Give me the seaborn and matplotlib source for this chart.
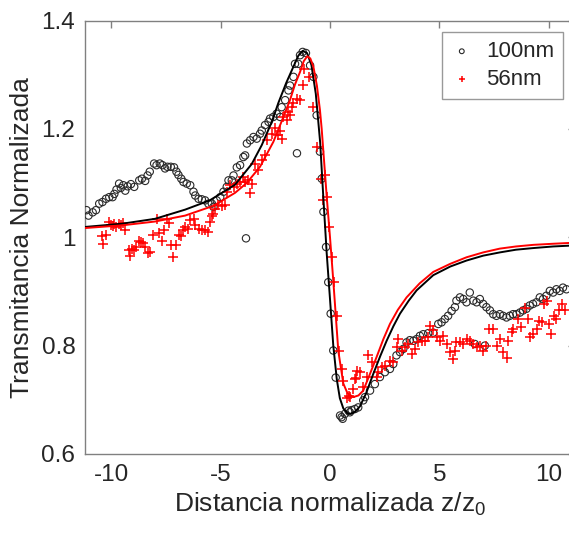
import numpy as np
import pandas as pd
import matplotlib
matplotlib.use("Agg")
import matplotlib.pyplot as plt
import seaborn as sns

# ---------------- data ----------------
x_100 = [-11.13, -11.04, -10.85, -10.70, -10.55, -10.40, -10.24, -10.09, -9.94, -9.86, -9.76, -9.64, -9.56,
         -9.45, -9.36, -9.25, -9.10, -8.95, -8.72, -8.60, -8.45, -8.34, -8.24, -8.04, -7.93, -7.78, -7.66,
         -7.54, -7.43, -7.28, -7.13, -7.02, -6.93, -6.80, -6.70, -6.55, -6.39, -6.24, -6.16, -6.01, -5.86,
         -5.71, -5.56, -5.40, -5.33, -5.18, -5.02, -4.87, -4.72, -4.64, -4.49, -4.41, -4.26, -4.11, -3.96,
         -3.88, -3.84, -3.80, -3.65, -3.50, -3.35, -3.20, -3.12, -2.97, -2.81, -2.74, -2.59, -2.44, -2.28,
         -2.21, -2.05, -1.90, -1.83, -1.67, -1.60, -1.51, -1.45, -1.37, -1.25, -1.10, -0.91, -0.76, -0.61,
         -0.46, -0.38, -0.30, -0.18, -0.08, 0.03, 0.15, 0.26, 0.46, 0.53, 0.58, 0.68, 0.84, 0.91, 0.99,
         1.14, 1.29, 1.52, 1.60, 1.83, 2.05, 2.28, 2.51, 2.74, 2.89, 3.04, 3.20, 3.35, 3.50, 3.65, 3.81,
         3.96, 4.11, 4.26, 4.49, 4.72, 4.95, 5.10, 5.25, 5.40, 5.56, 5.71, 5.78, 5.94, 6.09, 6.24, 6.39,
         6.55, 6.62, 6.70, 6.85, 7.00, 7.08, 7.15, 7.31, 7.46, 7.61, 7.76, 7.91, 8.07, 8.22, 8.37, 8.52,
         8.68, 8.83, 8.98, 9.13, 9.28, 9.44, 9.59, 9.74, 9.89, 10.05, 10.20, 10.35, 10.50, 10.65, 10.81]
y_100 = [1.050, 1.040, 1.046, 1.050, 1.062, 1.065, 1.071, 1.074, 1.074, 1.080, 1.088, 1.099, 1.091,
         1.096, 1.086, 1.094, 1.098, 1.093, 1.105, 1.108, 1.104, 1.114, 1.121, 1.136, 1.133, 1.136, 1.133,
         1.127, 1.130, 1.130, 1.129, 1.121, 1.115, 1.108, 1.102, 1.099, 1.096, 1.084, 1.077, 1.071, 1.070,
         1.068, 1.062, 1.062, 1.056, 1.068, 1.074, 1.084, 1.093, 1.105, 1.105, 1.114, 1.129, 1.133, 1.148,
         1.151, 0.998, 1.173, 1.179, 1.185, 1.182, 1.191, 1.197, 1.207, 1.213, 1.219, 1.222, 1.228, 1.222,
         1.240, 1.253, 1.271, 1.280, 1.296, 1.320, 1.155, 1.320, 1.336, 1.342, 1.340, 1.317, 1.296, 1.225,
         1.158, 1.108, 1.047, 0.982, 0.917, 0.859, 0.791, 0.741, 0.671, 0.668, 0.665, 0.674, 0.680, 0.677,
         0.681, 0.683, 0.686, 0.699, 0.705, 0.717, 0.729, 0.742, 0.751, 0.757, 0.766, 0.782, 0.788, 0.794,
         0.806, 0.810, 0.809, 0.812, 0.818, 0.821, 0.823, 0.824, 0.840, 0.843, 0.849, 0.855, 0.864, 0.871,
         0.883, 0.889, 0.886, 0.880, 0.898, 0.883, 0.803, 0.880, 0.886, 0.877, 0.800, 0.871, 0.865, 0.858,
         0.855, 0.858, 0.855, 0.852, 0.855, 0.858, 0.858, 0.861, 0.865, 0.868, 0.874, 0.877, 0.880, 0.889,
         0.886, 0.892, 0.901, 0.898, 0.904, 0.901, 0.907, 0.904]

x_56 = [-10.43, -10.36, -10.24, -10.12, -10.01, -9.94, -9.86, -9.79, -9.66, -9.56, -9.48, -9.36, -9.21,
        -9.15, -9.03, -8.95, -8.87, -8.72, -8.64, -8.57, -8.45, -8.34, -8.24, -8.08, -7.93, -7.81, -7.69,
        -7.58, -7.47, -7.38, -7.26, -7.17, -7.05, -6.92, -6.82, -6.74, -6.62, -6.51, -6.39, -6.24, -6.16,
        -6.01, -5.86, -5.71, -5.56, -5.48, -5.40, -5.33, -5.25, -5.10, -4.95, -4.79, -4.72, -4.57, -4.41,
        -4.26, -4.11, -3.99, -3.88, -3.77, -3.65, -3.58, -3.43, -3.27, -3.12, -2.97, -2.89, -2.66, -2.51,
        -2.36, -2.28, -2.21, -2.13, -1.98, -1.90, -1.83, -1.75, -1.67, -1.52, -1.37, -1.25, -1.19, -0.94,
        -0.76, -0.61, -0.43, -0.30, -0.23, -0.15, -0.03, 0.08, 0.20, 0.31, 0.41, 0.53, 0.61, 0.76, 0.88,
        0.91, 1.07, 1.14, 1.19, 1.22, 1.37, 1.52, 1.67, 1.75, 1.90, 2.13, 2.21, 2.36, 2.51, 2.74, 2.89,
        3.04, 3.12, 3.27, 3.42, 3.58, 3.73, 3.88, 4.03, 4.19, 4.34, 4.49, 4.57, 4.72, 4.87, 5.02, 5.18,
        5.33, 5.48, 5.63, 5.71, 5.78, 5.94, 6.09, 6.24, 6.39, 6.55, 6.70, 6.85, 7.00, 7.15, 7.28, 7.46,
        7.64, 7.76, 7.91, 8.07, 8.14, 8.30, 8.37, 8.60, 8.75, 8.90, 9.06, 9.13, 9.28, 9.44, 9.56, 9.67,
        9.77, 9.92, 10.01, 10.08, 10.23, 10.35, 10.47, 10.62, 10.73]
y_56 = [1.002, 0.987, 1.004, 1.028, 1.022, 1.020, 1.024, 1.019, 1.024, 1.022, 1.026, 1.014, 0.977,
        0.965, 0.979, 0.977, 0.982, 0.993, 0.991, 0.989, 0.982, 0.971, 0.973, 1.004, 1.034, 1.008, 0.993,
        1.014, 1.034, 1.026, 0.985, 0.963, 0.985, 1.004, 1.002, 1.013, 1.018, 1.016, 1.031, 1.034, 1.022,
        1.016, 1.013, 1.013, 1.010, 1.028, 1.040, 1.043, 1.052, 1.059, 1.057, 1.059, 1.083, 1.096, 1.093,
        1.099, 1.102, 1.111, 1.102, 1.105, 1.082, 1.099, 1.136, 1.124, 1.142, 1.151, 1.179, 1.191, 1.201,
        1.188, 1.197, 1.182, 1.222, 1.216, 1.232, 1.225, 1.241, 1.247, 1.256, 1.253, 1.281, 1.311, 1.296,
        1.241, 1.167, 1.108, 1.068, 1.114, 1.074, 1.018, 0.963, 0.917, 0.855, 0.790, 0.757, 0.735, 0.704,
        0.707, 0.705, 0.720, 0.738, 0.740, 0.754, 0.751, 0.723, 0.742, 0.782, 0.770, 0.742, 0.751, 0.760,
        0.763, 0.772, 0.769, 0.797, 0.812, 0.791, 0.797, 0.803, 0.785, 0.794, 0.806, 0.809, 0.809, 0.815,
        0.837, 0.828, 0.815, 0.809, 0.818, 0.803, 0.788, 0.775, 0.790, 0.806, 0.806, 0.803, 0.812, 0.809,
        0.803, 0.797, 0.800, 0.791, 0.800, 0.831, 0.831, 0.800, 0.812, 0.788, 0.777, 0.809, 0.825, 0.831,
        0.849, 0.834, 0.870, 0.849, 0.815, 0.822, 0.831, 0.846, 0.843, 0.877, 0.883, 0.840, 0.822, 0.855,
        0.849, 0.865, 0.877, 0.865]

fit_x_100 = [-11.2, -9.5, -8.0, -6.62, -5.5, -4.34, -3.58, -3.12, -2.66, -2.36, -2.0, -1.67, -1.45, -1.25,
             -1.05, -0.85, -0.65, -0.45, -0.3, -0.15, 0.0, 0.15, 0.31, 0.45, 0.61, 0.8, 0.95, 1.15, 1.37,
             1.65, 1.98, 2.3, 2.59, 2.9, 3.2, 3.6, 3.96, 4.72, 5.5, 6.24, 7.0, 7.76, 8.5, 9.28, 10.2, 11.2]
fit_y_100 = [1.019, 1.025, 1.034, 1.051, 1.068, 1.097, 1.135, 1.170, 1.213, 1.248, 1.285, 1.315, 1.335,
             1.344, 1.340, 1.318, 1.265, 1.175, 1.070, 0.970, 0.886, 0.800, 0.738, 0.703, 0.684, 0.675,
             0.674, 0.678, 0.688, 0.712, 0.748, 0.781, 0.809, 0.836, 0.859, 0.883, 0.902, 0.930, 0.946,
             0.957, 0.966, 0.972, 0.977, 0.980, 0.983, 0.985]

fit_x_56 = [-11.2, -9.5, -8.0, -6.62, -5.33, -4.34, -3.81, -3.2, -2.59, -2.2, -1.83, -1.6, -1.37, -1.2,
            -1.04, -0.9, -0.76, -0.6, -0.46, -0.38, -0.15, 0.0, 0.15, 0.38, 0.61, 0.8, 1.06, 1.3, 1.52,
            1.8, 2.13, 2.44, 2.74, 3.1, 3.5, 4.1, 4.72, 5.5, 6.24, 7.0, 7.76, 8.5, 9.3, 10.2, 11.2]
fit_y_56 = [1.017, 1.022, 1.029, 1.040, 1.058, 1.082, 1.100, 1.130, 1.176, 1.215, 1.253, 1.282, 1.305,
            1.325, 1.334, 1.330, 1.315, 1.280, 1.235, 1.200, 1.075, 1.000, 0.920, 0.790, 0.730, 0.712,
            0.705, 0.708, 0.717, 0.745, 0.779, 0.812, 0.840, 0.866, 0.889, 0.915, 0.936, 0.951, 0.963,
            0.972, 0.979, 0.983, 0.986, 0.988, 0.990]

labels = ["100nm", "56nm"]
xticks = [-10, -5, 0, 5, 10]
yticks = [0.6, 0.8, 1.0, 1.2, 1.4]
ytick_labels = ["0.6", "0.8", "1", "1.2", "1.4"]

# ---------------- style ----------------
sns.set_style("white")
plt.rcParams["font.family"] = ["Liberation Sans", "DejaVu Sans"]
plt.rcParams["mathtext.default"] = "regular"
plt.rcParams["axes.unicode_minus"] = False

fig = plt.figure(figsize=(5.69, 5.33), dpi=100)
ax = fig.add_axes([85 / 569, 1 - 454 / 533, 490 / 569, 433.5 / 533])

grey = "#808080"

sns.scatterplot(x=x_100, y=y_100, ax=ax, marker="o", s=28, facecolors="none",
                edgecolor="#2a2a2a", linewidth=0.8, label=labels[0], zorder=3)
sns.scatterplot(x=x_56, y=y_56, ax=ax, marker="+", s=42, color="#ff0000",
                linewidth=1.1, label=labels[1], zorder=3)
sns.lineplot(x=fit_x_100, y=fit_y_100, ax=ax, color="black", linewidth=1.4,
             sort=False, estimator=None, zorder=4, legend=False)
sns.lineplot(x=fit_x_56, y=fit_y_56, ax=ax, color="#ff0000", linewidth=1.4,
             sort=False, estimator=None, zorder=4, legend=False)

ax.set_xlim(-11.2, 11.2)
ax.set_ylim(0.6, 1.4)
ax.set_xticks(xticks)
ax.set_xticklabels([str(t) for t in xticks])
ax.set_yticks(yticks)
ax.set_yticklabels(ytick_labels)

for sp in ax.spines.values():
    sp.set_color(grey)
    sp.set_linewidth(1.0)
ax.tick_params(direction="in", top=True, right=True, length=5, width=1.0,
               color=grey, labelsize=17.5, labelcolor="#262626", pad=7)

ax.set_xlabel("Distancia normalizada z/z$_0$", fontsize=19, color="#262626", labelpad=4)
ax.set_ylabel("Transmitancia Normalizada", fontsize=19, color="#262626", labelpad=5)

leg = ax.legend(loc="upper right", bbox_to_anchor=(0.976, 0.973), borderaxespad=0,
                fontsize=16, frameon=True, fancybox=False, markerscale=0.65,
                handletextpad=0.6, borderpad=0.4, labelspacing=0.3, handlelength=1.0)
leg.get_frame().set_edgecolor(grey)
leg.get_frame().set_linewidth(1.0)
for t in leg.get_texts():
    t.set_color("#262626")

fig.savefig("out.png", dpi=100)
